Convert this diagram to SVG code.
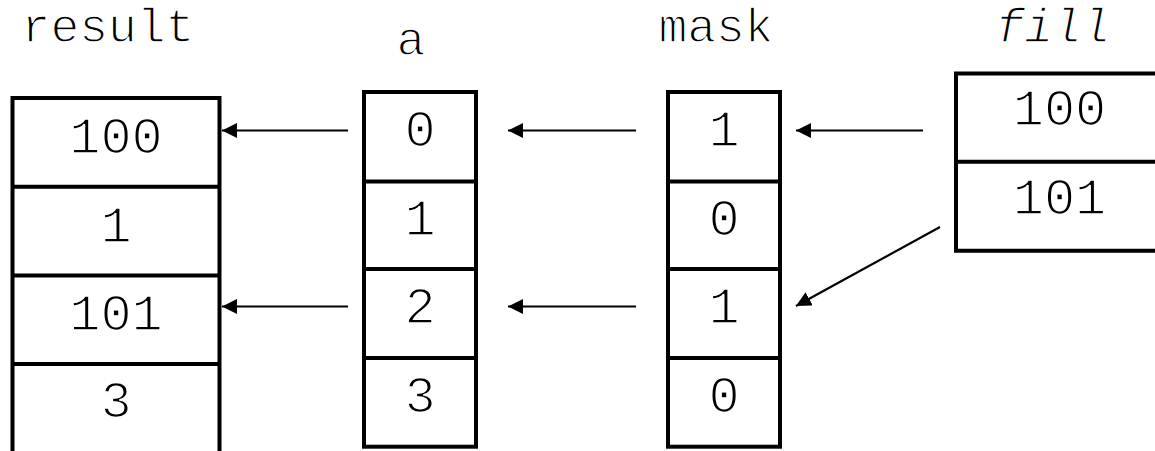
<svg xmlns="http://www.w3.org/2000/svg" width="1155" height="451" viewBox="0 0 1155 451">
  <style>
    .box { fill: none; stroke: #000; stroke-width: 4; }
    .cell { font-family: "Liberation Mono", "Courier New", monospace; font-size: 52px; fill: #000; text-anchor: middle; stroke: #fff; stroke-width: 1.6; }
    .label { font-family: "Liberation Mono", "Courier New", monospace; font-size: 48px; fill: #000; text-anchor: middle; stroke: #fff; stroke-width: 1.4; }
    .it { font-style: italic; }
    .conn { stroke: #000; stroke-width: 2.2; fill: none; marker-end: url(#head); }
  </style>
  <defs>
    <marker id="head" markerUnits="userSpaceOnUse" markerWidth="16" markerHeight="16" refX="15" refY="7.5" orient="auto">
      <path d="M0,0 L15,7.5 L0,15 Z" fill="#000"/>
    </marker>
  </defs>
  <rect width="1155" height="451" fill="#fff"/>

  <!-- result: open at the bottom, runs off the canvas -->
  <g id="result">
    <text class="label" x="108" y="42">result</text>
    <path class="box" d="M12.5,460 V98 H219.5 V460 M12.5,186.7 H219.5 M12.5,275.4 H219.5 M12.5,364 H219.5"/>
    <text class="cell" x="116" y="152.5">100</text>
    <text class="cell" x="116" y="241.5">1</text>
    <text class="cell" x="116" y="330">101</text>
    <text class="cell" x="116" y="417">3</text>
  </g>

  <!-- a -->
  <g id="a">
    <text class="label" x="411" y="55">a</text>
    <rect class="box" x="364" y="92" width="112" height="354.7"/>
    <path class="box" d="M364,181.5 H476 M364,269 H476 M364,358 H476"/>
    <text class="cell" x="420" y="145.7">0</text>
    <text class="cell" x="420" y="234.5">1</text>
    <text class="cell" x="420" y="323">2</text>
    <text class="cell" x="420" y="412">3</text>
  </g>

  <!-- mask -->
  <g id="mask">
    <text class="label" x="716" y="42">mask</text>
    <rect class="box" x="668" y="92" width="112" height="354.7"/>
    <path class="box" d="M668,181.5 H780 M668,269 H780 M668,358 H780"/>
    <text class="cell" x="724" y="145.7">1</text>
    <text class="cell" x="724" y="234.5">0</text>
    <text class="cell" x="724" y="323">1</text>
    <text class="cell" x="724" y="412">0</text>
  </g>

  <!-- fill: right side runs off the canvas -->
  <g id="fill">
    <text class="label it" x="1053" y="42">fill</text>
    <path class="box" d="M1170,73.5 H956 V250.7 H1170 M956,161.7 H1170"/>
    <text class="cell" x="1059.5" y="125">100</text>
    <text class="cell" x="1059.5" y="213.5">101</text>
  </g>

  <g id="connectors">
    <line class="conn" x1="348" y1="130.5" x2="222" y2="130.5"/>
    <line class="conn" x1="348" y1="306.5" x2="222" y2="306.5"/>
    <line class="conn" x1="636" y1="130.5" x2="508" y2="130.5"/>
    <line class="conn" x1="636" y1="306.5" x2="508" y2="306.5"/>
    <line class="conn" x1="923" y1="130.5" x2="796" y2="130.5"/>
    <line class="conn" x1="940" y1="227" x2="796" y2="306"/>
  </g>
</svg>
